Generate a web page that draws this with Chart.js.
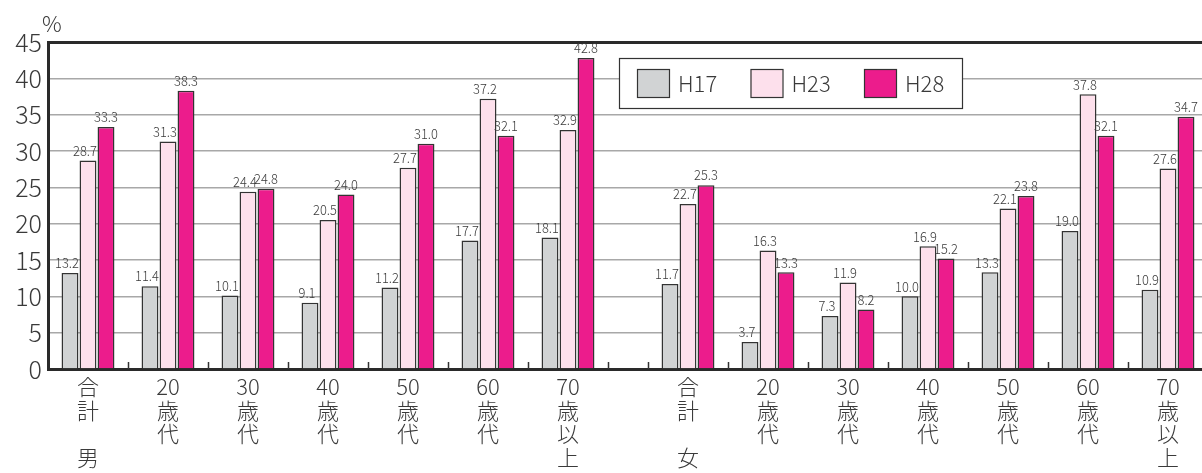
<!DOCTYPE html>
<html><head><meta charset="utf-8">
<script src="https://cdn.jsdelivr.net/npm/chart.js@4.4.1/dist/chart.umd.min.js"></script>
<style>html,body{margin:0;padding:0;background:#fff}#wrap{width:1202px;height:473px;position:relative}</style>
</head><body><div id="wrap"><canvas id="c"></canvas></div>
<script>
// ---- data ----
const ageGroups = ['合計', '20歳代', '30歳代', '40歳代', '50歳代', '60歳代', '70歳以上'];
const sexes = ['男', '女'];
const seriesNames = ['H17', 'H23', 'H28'];
const maleH17 = [13.2, 11.4, 10.1, 9.1, 11.2, 17.7, 18.1];
const maleH23 = [28.7, 31.3, 24.4, 20.5, 27.7, 37.2, 32.9];
const maleH28 = [33.3, 38.3, 24.8, 24.0, 31.0, 32.1, 42.8];
const femaleH17 = [11.7, 3.7, 7.3, 10.0, 13.3, 19.0, 10.9];
const femaleH23 = [22.7, 16.3, 11.9, 16.9, 22.1, 37.8, 27.6];
const femaleH28 = [25.3, 13.3, 8.2, 15.2, 23.8, 32.1, 34.7];
const yTicks = [0, 5, 10, 15, 20, 25, 30, 35, 40, 45];

// ---- build ----
const GAP = 0.5; // extra half-slot between male and female blocks
const n = ageGroups.length;
const xPos = [];
const xLabels = [];
sexes.forEach((s, g) => {
  ageGroups.forEach((a, i) => {
    xPos.push(g * (n + GAP) + i);
    let lines;
    if (a === '合計') lines = ['合', '計', '', s];
    else { const m = a.match(/^(\d+)(.*)$/); lines = [m[1], ...m[2].split('')]; }
    xLabels.push(lines);
  });
});
const pts = (m, f) => [...m, ...f].map((v, i) => ({ x: xPos[i], y: v }));
const colors = ['#d1d3d4', '#fde0ec', '#ec1c8c'];
const seriesData = [pts(maleH17, femaleH17), pts(maleH23, femaleH23), pts(maleH28, femaleH28)];
const FONT = '"Noto Sans CJK JP", "Open Sans", sans-serif';
const TEXT = '#3a3a3a';

const datasets = seriesNames.map((name, k) => ({
  label: name,
  data: seriesData[k],
  backgroundColor: colors[k],
  borderColor: '#333',
  borderWidth: 1.5,
  borderSkipped: 'bottom',
  categoryPercentage: 0.675,
  barPercentage: 0.94
}));

const overlay = {
  id: 'overlay',
  afterDatasetsDraw(chart) {
    const ctx = chart.ctx, ca = chart.chartArea;
    const xs = chart.scales.x;
    ctx.save();
    // boundary tick marks on the base line
    ctx.strokeStyle = '#333'; ctx.lineWidth = 1.5;
    const bounds = [];
    xPos.forEach((p, i) => { bounds.push(i < n ? p + 0.5 : p - 0.5); });
    bounds.forEach(b => {
      const px = Math.round(xs.getPixelForValue(b)) + 0.5;
      if (px > ca.right) return;
      ctx.beginPath(); ctx.moveTo(px, ca.bottom); ctx.lineTo(px, ca.bottom - 7); ctx.stroke();
    });
    // value labels
    ctx.fillStyle = TEXT;
    ctx.font = '300 14px ' + FONT;
    ctx.textAlign = 'center'; ctx.textBaseline = 'bottom';
    chart.data.datasets.forEach((ds, k) => {
      const meta = chart.getDatasetMeta(k);
      meta.data.forEach((bar, i) => {
        const v = ds.data[i].y;
        const dx = k < 2 ? -3 : 0;
        ctx.save();
        ctx.translate(bar.x + dx, bar.y - 3);
        ctx.scale(0.92, 1);
        ctx.fillText(v.toFixed(1), 0, 0);
        ctx.restore();
      });
    });
    // percent sign
    ctx.font = '300 22px ' + FONT;
    ctx.textAlign = 'left'; ctx.textBaseline = 'alphabetic';
    ctx.fillText('%', ca.left - 6, ca.top - 10);
    // legend
    const lx = ca.left + 571, ly = ca.top + 16, lw = 343, lh = 50;
    ctx.fillStyle = '#fff';
    ctx.fillRect(lx, ly, lw, lh);
    ctx.strokeStyle = '#333'; ctx.lineWidth = 1.2;
    ctx.strokeRect(lx + 0.5, ly + 0.5, lw, lh);
    ctx.font = '300 22px ' + FONT;
    ctx.textBaseline = 'middle';
    chart.data.datasets.forEach((ds, k) => {
      const sx = lx + 18 + k * 113.5, sy = ly + 11;
      ctx.fillStyle = ds.backgroundColor;
      ctx.fillRect(sx, sy, 32, 28);
      ctx.strokeStyle = '#333'; ctx.lineWidth = 1.2;
      ctx.strokeRect(sx + 0.5, sy + 0.5, 32, 28);
      ctx.fillStyle = TEXT;
      ctx.fillText(ds.label, sx + 41, sy + 15);
    });
    ctx.restore();
  }
};

new Chart(document.getElementById('c'), {
  type: 'bar',
  data: { datasets },
  options: {
    responsive: true,
    maintainAspectRatio: false,
    animation: false,
    layout: { padding: { top: 42, left: 0, right: 0, bottom: 0 } },
    plugins: { legend: { display: false }, tooltip: { enabled: false } },
    scales: {
      x: {
        type: 'linear',
        min: -0.5,
        max: -0.5 + 1154 / 80,
        offset: false,
        afterBuildTicks: s => { s.ticks = xPos.map(v => ({ value: v })); },
        afterFit: s => { s.height = 104; },
        grid: { display: false, drawTicks: false },
        border: { display: true, color: '#2a2a2a', width: 3 },
        ticks: {
          autoSkip: false, maxRotation: 0, minRotation: 0, padding: 6,
          color: TEXT,
          font: { family: FONT, size: 22, weight: 300, lineHeight: 1.07 },
          callback: (v, i) => xLabels[i]
        }
      },
      y: {
        min: 0, max: 45,
        afterBuildTicks: s => { s.ticks = yTicks.map(v => ({ value: v })); },
        afterFit: s => { s.width = 48; },
        grid: {
          drawTicks: false,
          color: c => c.tick && c.tick.value === 45 ? '#2a2a2a' : '#a8a8a8',
          lineWidth: c => c.tick && c.tick.value === 45 ? 3 : 1.5
        },
        border: { display: true, color: '#2a2a2a', width: 3 },
        ticks: {
          padding: 6, color: TEXT,
          font: { family: FONT, size: 25, weight: 300 }
        }
      }
    }
  },
  plugins: [overlay]
});
</script></body></html>
